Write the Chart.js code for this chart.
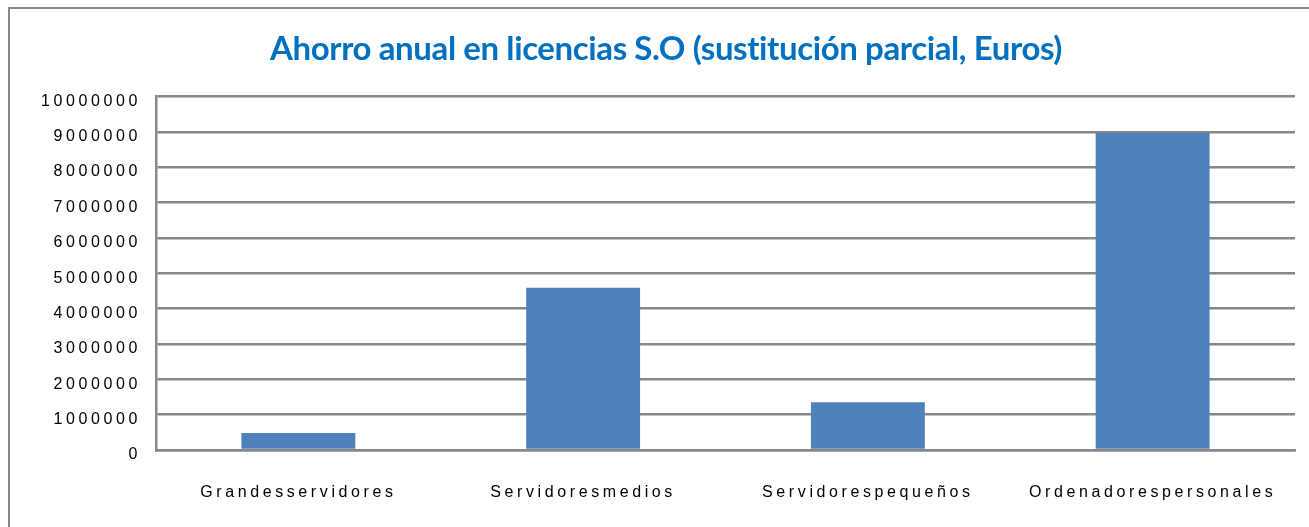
<!DOCTYPE html>
<html>
<head>
<meta charset="utf-8">
<script src="https://cdn.jsdelivr.net/npm/chart.js@4/dist/chart.umd.min.js"></script>
<style>
  html, body { margin: 0; padding: 0; background: #fff; }
  #wrap { position: relative; width: 1309px; height: 527px; overflow: hidden; }
  #frame { position: absolute; left: 8px; top: 7px; width: 1400px; height: 600px; border: 2px solid #888; }
  #myChart { position: absolute; left: 0; top: 0; }
</style>
</head>
<body>
<div id="wrap">
  <div id="frame"></div>
  <canvas id="myChart" width="1309" height="527"></canvas>
</div>
<script>
// Set up
  const labels = [
    'Grandesservidores',
    'Servidoresmedios',
    'Servidorespequeños',
    'Ordenadorespersonales',
  ];

  const ahorro = [480000, 4590000, 1350000, 8980000];

  const yTicks = [0, 1000000, 2000000, 3000000, 4000000, 5000000,
    6000000, 7000000, 8000000, 9000000, 10000000];

  const titleText = 'Ahorro anual en licencias S.O (sustitución parcial, Euros)';

// letter spacing: tight title, wide axis labels (ticks are drawn after the bars)
  const spacing = {
    id: 'spacing',
    afterLayout(chart) { chart.titleBlock.left += 37; },
    beforeDraw(chart) { chart.ctx.letterSpacing = '-0.4px'; },
    afterDatasetsDraw(chart) { chart.ctx.letterSpacing = '3.6px'; },
    afterDraw(chart) { chart.ctx.letterSpacing = '0px'; }
  };

  const data = {
    labels: labels,
    datasets: [{
      label: 'Ahorro',
      backgroundColor: '#4F81BD',
      borderWidth: 0,
      data: ahorro,
      barPercentage: 0.4,
      categoryPercentage: 1.0
    }]
  };

  const config = {
    type: 'bar',
    data: data,
    plugins: [spacing],
    options: {
      responsive: false,
      animation: false,
      layout: { padding: { left: 0, right: 14, top: 0, bottom: 0 } },
      plugins: {
        legend: { display: false },
        tooltip: { enabled: false },
        title: {
          display: true,
          text: titleText,
          color: '#0070C0',
          font: { family: 'Lato', weight: 'bold', size: 33 },
          padding: { top: 30, bottom: 27 }
        }
      },
      scales: {
        x: {
          grid: { display: false, drawTicks: false },
          border: { display: true, color: '#888', width: 2.5 },
          ticks: {
            z: 1,
            color: '#000',
            padding: 33,
            maxRotation: 0,
            font: { family: 'Liberation Sans', size: 16 }
          },
          afterFit: s => { s.height = 77; }
        },
        y: {
          min: 0,
          max: 10000000,
          grid: { color: '#888', lineWidth: 2.5, drawTicks: false },
          border: { display: true, color: '#888', width: 2.5 },
          afterBuildTicks: s => { s.ticks = yTicks.map(v => ({ value: v })); },
          ticks: {
            z: 1,
            color: '#000',
            padding: 15,
            // blank first line nudges the label a little below its gridline
            font: { family: 'Liberation Sans', size: 16, lineHeight: 0.6 },
            callback: v => ['', String(v)]
          },
          afterFit: s => { s.width = 156; }
        }
      }
    }
  };

// Config
  const myChart = new Chart(
    document.getElementById('myChart'),
    config
  );
</script>
</body>
</html>
